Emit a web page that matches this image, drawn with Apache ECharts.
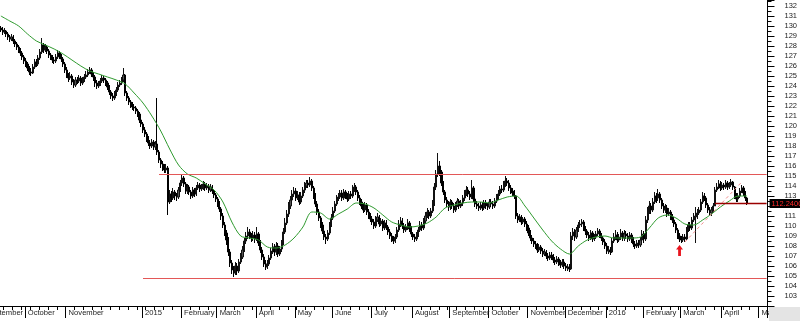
<!DOCTYPE html>
<html><head><meta charset="utf-8">
<script src="https://cdn.jsdelivr.net/npm/echarts@6/dist/echarts.min.js"></script>
<style>html,body{margin:0;padding:0;background:#fff}#c{width:800px;height:321px}</style>
</head><body><div id="c"></div>
<script>
// ---- data (daily bars, weekdays from 2014-09-11) ----
const startDate = '2014-09-11';
const categoryCount = 432;
const firstOpen = 129.8;
const closes = [
129.6,129.4,129.5,129.2,128.9,128.7,128.9,128.5,128.2,127.9,
127.6,127.3,126.9,126.5,126.2,125.8,125.4,125.3,125.9,126.4,
126.2,126.8,127.4,128.1,127.6,127.9,127.5,127.1,126.9,126.6,
126.5,126.9,127.3,127.0,126.7,126.2,125.6,125.1,124.8,125.0,
124.4,124.1,124.6,124.5,124.8,124.3,124.6,124.9,125.1,125.4,
125.6,125.2,124.9,124.3,124.0,124.2,124.5,124.8,124.6,124.3,
123.9,123.4,123.0,122.8,123.2,123.6,124.1,124.3,124.6,125.1,
123.3,122.8,122.4,122.1,121.9,121.8,121.5,121.2,120.6,120.2,
119.6,119.2,118.8,118.3,118.0,118.4,117.9,118.2,117.4,116.6,
116.2,115.9,115.6,115.8,112.4,113.2,112.8,113.4,113.0,112.9,
113.6,114.3,114.8,114.2,113.5,113.9,113.4,113.0,113.6,113.2,
113.8,114.1,113.7,113.9,114.2,113.8,114.0,113.6,113.9,113.5,
113.1,112.7,112.2,111.7,111.0,110.1,109.3,108.6,107.4,106.3,
105.6,105.3,106.0,105.5,106.4,106.9,107.6,108.5,109.0,109.4,
109.0,108.8,109.1,108.7,109.2,108.3,107.6,106.9,106.2,105.9,
106.2,106.8,107.5,107.9,107.4,108.0,107.2,107.7,108.3,109.4,
110.3,111.2,112.0,112.6,113.2,113.5,112.8,113.1,112.4,113.0,
113.6,114.0,114.3,114.1,114.5,113.8,113.0,112.2,111.4,110.8,
110.1,109.5,108.9,108.7,109.3,110.1,110.8,111.5,112.2,112.7,
112.9,113.3,112.8,113.4,113.0,112.7,113.2,113.0,113.7,113.9,
113.4,112.8,112.4,112.0,111.6,112.1,111.4,111.0,110.7,110.4,
110.0,110.6,110.9,110.2,110.5,109.8,110.3,109.9,109.4,109.0,
108.7,108.5,108.9,109.6,110.2,110.5,110.0,109.6,109.9,110.3,
109.7,109.2,108.9,108.7,109.1,109.6,110.1,109.8,110.5,111.0,
111.4,111.0,111.5,112.2,113.9,115.2,116.0,115.4,114.3,113.4,
112.6,112.2,111.9,112.4,112.0,111.6,112.1,112.5,112.0,112.3,
112.8,113.3,113.6,113.2,112.9,113.8,112.7,112.2,112.0,111.8,
112.1,111.8,112.3,112.0,111.9,112.4,112.2,112.0,112.5,112.8,
113.2,113.7,113.6,114.1,114.5,114.3,113.8,113.5,113.3,113.0,
111.0,110.6,110.9,110.4,110.7,110.2,109.8,109.3,108.8,108.5,
108.2,108.0,107.6,107.9,107.5,107.2,107.4,107.0,106.8,107.1,
106.9,106.6,106.4,106.7,106.3,106.1,106.4,106.0,105.8,105.9,
105.7,109.0,109.4,108.9,109.6,110.1,110.2,110.4,109.8,109.5,
109.1,108.8,109.3,108.7,108.9,109.2,109.5,109.1,108.8,108.4,
108.0,107.5,107.6,107.4,108.5,108.9,109.1,108.6,108.9,109.3,
108.8,109.2,109.0,108.7,109.1,108.6,108.2,108.0,108.3,108.1,
108.6,109.2,108.7,110.6,111.5,112.0,111.6,112.4,113.0,112.8,
113.2,112.6,112.0,111.6,111.8,111.2,111.4,110.9,110.6,110.2,
109.6,109.0,108.7,108.6,108.9,108.7,109.6,110.1,109.8,110.6,
110.9,111.0,111.3,111.6,112.4,113.0,112.8,112.1,111.6,111.3,
111.6,112.0,113.6,113.9,114.2,113.8,114.1,113.9,114.3,113.9,
114.1,114.4,113.9,113.0,112.7,113.0,113.5,113.8,113.3,112.8,112.24
];
const highs = [
130.0,129.9,129.8,129.6,129.4,129.1,129.2,129.1,128.7,128.4,
128.1,127.8,127.5,127.1,126.8,126.4,126.0,125.8,126.2,126.7,
126.7,127.1,127.7,128.8,128.3,128.2,128.1,127.7,127.3,127.1,
126.9,127.2,127.6,127.5,127.2,126.9,126.4,125.9,125.3,125.4,
125.2,124.7,124.9,124.9,125.1,125.0,124.9,125.2,125.5,125.7,
125.9,125.8,125.4,125.1,124.6,124.5,124.8,125.1,125.0,124.8,
124.5,124.1,123.6,123.3,123.5,123.9,124.4,124.6,124.9,125.8,
125.2,123.5,123.0,122.6,122.4,122.2,122.0,121.7,121.4,120.9,
120.4,119.9,119.4,119.0,118.6,118.7,118.6,118.5,122.8,117.6,
116.8,116.5,116.2,116.2,116.0,113.6,113.5,113.8,113.6,113.3,
113.9,114.6,115.1,115.0,114.4,114.2,114.1,113.6,113.9,113.8,
114.1,114.4,114.3,114.2,114.5,114.4,114.3,114.2,114.2,114.1,
113.7,113.3,112.9,112.5,111.9,111.3,110.4,109.6,108.9,107.7,
106.6,106.0,106.4,106.3,106.7,107.3,108.0,108.8,109.4,109.9,
109.7,109.3,109.5,109.4,109.9,109.4,108.6,107.9,107.2,106.6,
106.6,107.1,107.8,108.3,108.2,108.4,108.3,108.0,108.6,109.8,
110.8,111.6,112.4,113.0,113.6,113.9,113.8,113.5,113.4,113.4,
113.9,114.4,114.6,114.6,114.9,114.7,114.0,113.3,112.5,111.7,
111.0,110.4,109.8,109.2,109.6,110.4,111.2,111.9,112.5,113.1,
113.3,113.6,113.6,113.7,113.6,113.3,113.5,113.5,114.1,114.3,
114.1,113.6,113.1,112.7,112.3,112.4,112.3,111.7,111.3,111.0,
110.7,111.0,111.3,111.1,110.8,110.7,110.6,110.6,110.1,109.7,
109.3,109.0,109.2,109.9,110.6,110.9,110.8,110.3,110.2,110.7,
110.5,110.0,109.4,109.2,109.4,109.9,110.5,110.4,110.8,111.4,
111.8,111.6,111.8,112.6,114.3,115.6,117.3,116.5,115.6,114.5,
113.6,112.9,112.5,112.7,112.6,112.3,112.4,112.8,112.7,112.6,
113.1,113.6,114.0,113.9,113.5,114.6,114.0,113.0,112.5,112.3,
112.4,112.4,112.6,112.6,112.3,112.7,112.7,112.5,112.8,113.2,
113.6,114.0,114.1,114.5,115.0,114.8,114.6,114.1,113.8,113.6,
113.1,111.3,111.2,111.1,110.9,110.9,110.5,110.1,109.6,109.1,
108.8,108.5,108.3,108.2,108.1,107.8,107.7,107.6,107.3,107.4,
107.4,107.2,106.9,107.0,106.9,106.6,106.7,106.7,106.3,106.2,
106.2,109.4,109.8,109.7,109.9,110.4,110.6,110.7,110.6,110.0,
109.7,109.4,109.6,109.5,109.2,109.5,109.8,109.7,109.3,109.0,
108.7,108.3,108.0,107.9,108.8,109.3,109.6,109.4,109.2,109.7,
109.5,109.6,109.5,109.3,109.4,109.3,108.9,108.5,108.6,108.6,
108.9,109.6,109.5,111.0,111.9,112.5,112.3,112.8,113.4,113.3,
113.7,113.4,112.8,112.3,112.2,112.1,111.8,111.6,111.2,110.9,
110.4,109.8,109.3,109.0,109.2,109.2,109.9,110.4,110.4,110.9,
111.3,111.9,111.7,111.9,112.7,113.4,113.3,113.0,112.3,111.9,
111.9,112.3,113.9,114.3,114.6,114.5,114.4,114.3,114.6,114.5,
114.4,114.7,114.5,114.0,113.3,113.3,113.8,114.1,114.0,113.5,112.9
];
const lows = [
129.4,129.1,129.2,128.9,128.6,128.4,128.5,128.2,127.9,127.6,
127.3,127.0,126.6,126.2,125.9,125.5,125.1,125.0,125.2,125.7,
125.9,126.0,126.6,127.2,127.3,127.4,127.2,126.8,126.6,126.3,
126.2,126.3,126.7,126.7,126.4,125.9,125.3,124.8,124.4,124.6,
124.1,123.8,123.9,124.2,124.3,124.0,124.1,124.4,124.7,124.9,
125.2,124.9,124.5,123.9,123.7,123.8,124.0,124.3,124.3,124.0,
123.6,123.1,122.7,122.5,122.6,123.0,123.4,123.9,124.1,124.4,
123.0,122.5,122.1,121.8,121.6,121.5,121.2,120.9,120.3,119.9,
119.3,118.9,118.4,118.0,117.7,117.8,117.6,117.6,117.1,116.3,
115.8,115.5,115.3,115.3,111.1,112.2,112.4,112.6,112.6,112.5,
112.7,113.4,114.0,113.9,113.2,113.2,113.1,112.7,112.8,112.9,
113.0,113.6,113.4,113.5,113.6,113.5,113.6,113.3,113.4,113.2,
112.8,112.4,111.9,111.4,110.6,109.8,109.0,108.1,107.0,105.9,
105.2,104.9,105.1,105.1,105.3,106.2,106.7,107.4,108.2,108.7,
108.7,108.4,108.5,108.3,108.5,108.0,107.3,106.6,105.9,105.6,
105.7,106.0,106.6,107.2,107.0,107.1,106.9,107.0,107.4,108.1,
109.2,110.1,110.9,111.7,112.3,112.9,112.5,112.6,112.1,112.2,
112.8,113.3,113.8,113.8,113.9,113.5,112.7,111.9,111.1,110.5,
109.8,109.2,108.6,108.2,108.5,109.1,109.9,110.6,111.3,112.0,
112.5,112.7,112.5,112.6,112.7,112.4,112.5,112.7,112.8,113.4,
113.1,112.5,112.1,111.7,111.3,111.4,111.1,110.7,110.4,110.1,
109.7,109.8,110.4,109.9,110.0,109.5,109.6,109.6,109.1,108.7,
108.4,108.2,108.3,108.7,109.4,109.9,109.7,109.3,109.4,109.6,
109.4,108.9,108.6,108.4,108.5,108.9,109.4,109.5,109.6,110.2,
110.8,110.7,110.8,111.3,112.0,113.6,114.9,115.0,114.0,113.1,
112.3,111.9,111.5,111.6,111.7,111.3,111.4,111.9,111.7,111.8,
112.0,112.5,113.0,112.9,112.6,112.7,112.4,111.9,111.7,111.5,
111.6,111.5,111.6,111.7,111.6,111.7,111.9,111.7,111.8,112.3,
112.6,113.0,113.3,113.4,113.9,114.0,113.5,113.2,113.0,112.7,
110.7,110.3,110.4,110.1,110.2,109.9,109.5,109.0,108.5,108.2,
107.9,107.7,107.3,107.4,107.2,106.9,107.0,106.7,106.5,106.6,
106.6,106.3,106.1,106.2,106.0,105.8,105.9,105.7,105.5,105.5,
105.4,105.6,108.6,108.5,108.7,109.4,109.8,109.9,109.5,109.1,
108.8,108.5,108.6,108.4,108.5,108.7,109.0,108.8,108.5,108.1,
107.7,107.2,107.2,107.1,107.3,108.3,108.6,108.3,108.4,108.6,
108.5,108.5,108.7,108.4,108.5,108.3,107.9,107.7,107.8,107.8,
107.9,108.4,108.3,108.5,110.3,111.2,111.2,111.4,112.2,112.3,
112.5,112.3,111.7,111.3,111.3,110.9,111.0,110.6,110.3,109.9,
109.3,108.7,108.4,108.3,108.4,108.4,108.6,109.4,109.5,109.6,
110.4,108.3,110.7,111.1,111.4,112.2,112.5,111.8,111.3,111.0,
111.0,111.4,112.0,113.4,113.7,113.5,113.6,113.6,113.7,113.6,
113.7,113.9,113.6,112.7,112.4,112.4,112.8,113.3,113.0,112.5,112.1
];
// moving average read every 5th bar
const maStep = 5;
const maValues = [
131.0,130.5,130.0,129.2,128.5,128.1,127.7,127.2,126.6,126.0,
125.5,125.2,124.9,124.6,124.2,123.3,122.3,121.0,119.5,117.7,
116.1,115.2,114.8,114.2,113.6,112.4,110.4,109.0,108.8,108.6,
107.9,107.8,108.1,108.8,109.9,111.4,111.3,110.7,111.2,111.7,
112.3,112.2,111.8,111.1,110.4,110.1,109.9,110.0,110.3,110.9,
111.8,112.1,112.3,112.4,112.4,112.3,112.6,112.9,113.0,112.0,
110.8,109.6,108.5,107.7,107.2,108.0,108.6,108.9,109.0,108.8,
108.8,108.8,108.9,109.8,110.8,111.1,110.8,110.2,110.1,110.6,
111.2,111.9,112.5,113.0,113.0
];
const resistance = 115.2, support = 104.8;
const resistanceStart = 89, supportStart = 80;
const trendFrom = [385, 108.4], trendTo = [417, 114.4];
const lastPrice = 112.24, lastPriceLabel = '112.2400', lastPriceLineStart = 402;
const arrowAt = [382, 107.55];
const monthNames = ['January','February','March','April','May','June','July','August','September','October','November','December'];
const hiddenMonths = ['2014-12'];

// ---- categories ----
const dates = [];
{
  const d = new Date(startDate + 'T00:00:00Z');
  while (dates.length < categoryCount) {
    const wd = d.getUTCDay();
    if (wd >= 1 && wd <= 5) dates.push(d.toISOString().slice(0, 10));
    d.setUTCDate(d.getUTCDate() + 1);
  }
}
const isMonthStart = i => i > 0 && dates[i].slice(0, 7) !== dates[i - 1].slice(0, 7) && hiddenMonths.indexOf(dates[i].slice(0, 7)) < 0;
const isMonday = i => new Date(dates[i] + 'T00:00:00Z').getUTCDay() === 1;
const monthLabel = v => { const m = +v.slice(5, 7); return m === 1 ? v.slice(0, 4) : monthNames[m - 1]; };

const ohlc = closes.map((c, i) => {
  const o = i === 0 ? firstOpen : closes[i - 1];
  const lo = Math.min(lows[i], o, c), hi = Math.max(highs[i], o, c);
  return [o, c, lo, hi];
});
const maSeries = closes.map((c, i) => (i % maStep === 0 && maValues[i / maStep] != null) ? maValues[i / maStep] : null);

const last = categoryCount - 1;
const font = 'Liberation Sans, Arial, sans-serif';
const chart = echarts.init(document.getElementById('c'), null, {renderer: 'canvas'});
chart.setOption({
  animation: false,
  backgroundColor: '#ffffff',
  grid: {left: 0, right: 32, top: 0, bottom: 15},
  xAxis: [
    {type: 'category', data: dates, boundaryGap: true,
     axisLine: {show: true, lineStyle: {color: '#000', width: 1}},
     axisTick: {show: true, interval: i => isMonday(i), length: 4, lineStyle: {color: '#000'}},
     axisLabel: {show: false}, splitLine: {show: false}},
    {type: 'category', data: dates, boundaryGap: true, position: 'bottom',
     axisLine: {show: false},
     axisTick: {show: true, interval: i => isMonthStart(i), length: 12, lineStyle: {color: '#000'}},
     axisLabel: {show: true, interval: i => isMonthStart(i), formatter: v => monthLabel(v),
                 align: 'left', margin: 3, fontSize: 7.6, color: '#222', fontFamily: font, padding: [0, 0, 0, 2]},
     splitLine: {show: false}}
  ],
  yAxis: {type: 'value', position: 'right', min: 102, max: 132.6, interval: 1,
    axisLine: {show: true, lineStyle: {color: '#000'}},
    axisTick: {show: true, length: 7, lineStyle: {color: '#000'}},
    minorTick: {show: true, splitNumber: 2, length: 4, lineStyle: {color: '#000'}},
    axisLabel: {margin: 17, fontSize: 7.5, color: '#222', fontFamily: font,
      formatter: v => (Math.abs(v - Math.round(v)) < 1e-6 && v > 102.5) ? String(Math.round(v)) : ''},
    splitLine: {show: false}},
  series: [
    {type: 'candlestick', data: ohlc, xAxisIndex: 0, barWidth: 1.6,
     itemStyle: {color: '#555', color0: '#000', borderColor: '#111', borderColor0: '#000', borderWidth: 1},
     markLine: {silent: true, animation: false, symbol: ['none', 'none'], label: {show: false},
       data: [
         [{coord: [resistanceStart, resistance], lineStyle: {color: '#e35757', width: 1, type: 'solid'}}, {coord: [last, resistance]}],
         [{coord: [supportStart, support], lineStyle: {color: '#e35757', width: 1, type: 'solid'}}, {coord: [last, support]}],
         [{coord: trendFrom, lineStyle: {color: '#f08a8a', width: 1, type: [3, 3]}}, {coord: trendTo}],
         [{coord: [lastPriceLineStart, lastPrice], lineStyle: {color: '#9a0000', width: 1.3, type: 'solid'},
           label: {show: true, position: 'end', distance: 3, formatter: lastPriceLabel, backgroundColor: '#000',
                   color: '#ff2a2a', fontSize: 7.5, fontFamily: font, padding: [1, 2, 0, 2]}},
          {coord: [last, lastPrice]}]
       ]},
     markPoint: {silent: true, animation: false,
       data: [{coord: arrowAt, symbol: 'path://M5,0L10,5L7,5L7,12L3,12L3,5L0,5Z', symbolSize: [7, 11],
               itemStyle: {color: '#e8141e'}, label: {show: false}}]}
    },
    {type: 'line', data: maSeries, xAxisIndex: 0, connectNulls: true, smooth: 0.3, showSymbol: false, symbol: 'none',
     lineStyle: {color: '#2f9a2f', width: 1}, z: 3}
  ],
  graphic: [
    {type: 'text', x: -14, y: 309, style: {text: 'September', fontSize: 7.6, fontFamily: font, fill: '#222'}},
    {type: 'rect', shape: {x: 769, y: 307, width: 31, height: 14}, style: {fill: '#e4e4e4'}, z: 100}
  ]
});
</script></body></html>
